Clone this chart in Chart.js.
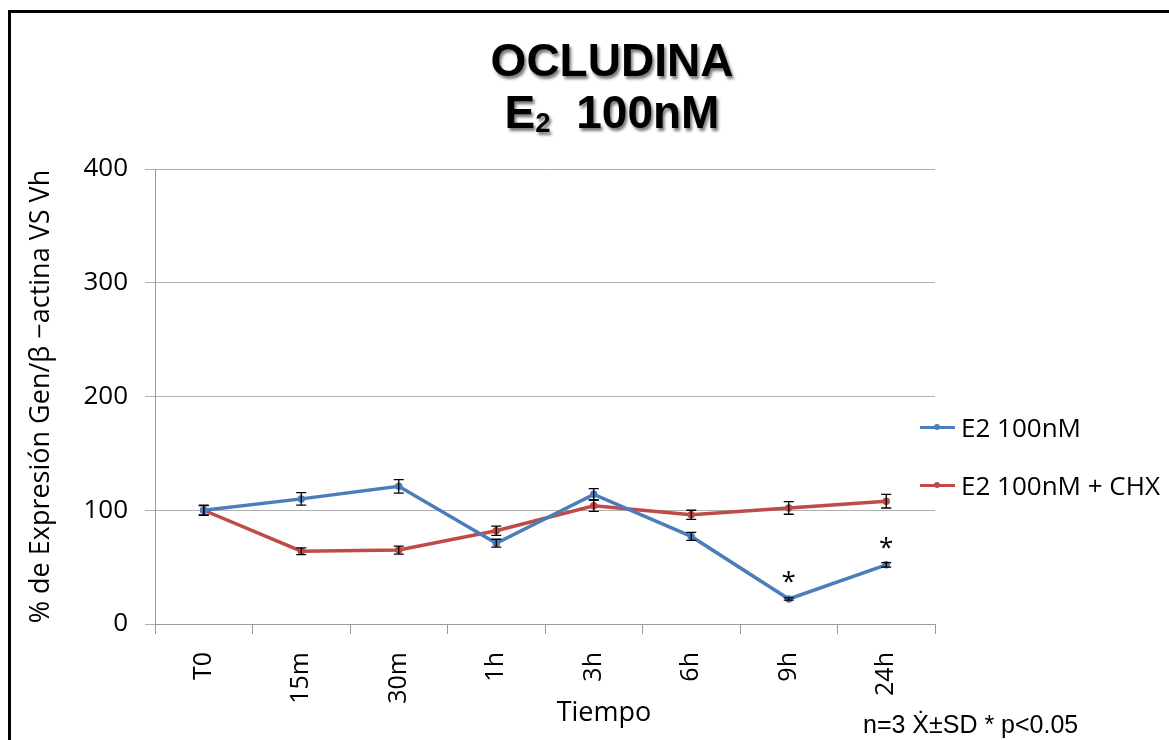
<!DOCTYPE html>
<html>
<head>
<meta charset="utf-8">
<script src="https://cdn.jsdelivr.net/npm/chart.js@4.4.1/dist/chart.umd.min.js"></script>
<style>
  html, body { margin: 0; padding: 0; background: #fff; overflow: hidden; }
  body { width: 1169px; height: 740px; position: relative; }
  #frame {
    position: absolute; left: 8px; top: 10px; width: 1200px; height: 800px;
    border: 3px solid #000; box-sizing: border-box;
  }
  #wrap { position: absolute; left: 0; top: 0; width: 1169px; height: 740px; }
  #title {
    position: absolute; left: 412px; top: 34px; width: 400px; text-align: center;
    font-family: 'Liberation Sans', Arial, sans-serif; font-weight: bold;
    font-size: 46px; line-height: 52px; color: #000;
    text-shadow: 2px 3px 3px #7a7a7a;
  }
  #title .sub { font-size: 0.6em; position: relative; top: 4px; }
  #xtitle {
    position: absolute; left: 504px; top: 697px; width: 200px; text-align: center;
    font-family: 'Open Sans', sans-serif; font-size: 27px; line-height: 27px; color: #000;
  }
  #note {
    position: absolute; left: 863px; top: 712px; white-space: nowrap;
    font-family: 'Liberation Sans', Arial, sans-serif; font-size: 25px; line-height: 25px; color: #000;
  }
  .leg {
    position: absolute; left: 920px; height: 36px; display: flex; align-items: center;
    font-family: 'Open Sans', sans-serif; font-size: 26px; color: #000; white-space: nowrap;
  }
  .leg .ln { width: 35px; height: 3px; position: relative; margin-right: 6px; }
  .leg .ln i { position: absolute; left: 14px; top: -1.5px; width: 6px; height: 6px; border-radius: 3px; }
</style>
</head>
<body>
<div id="frame"></div>
<div id="wrap"><canvas id="chart"></canvas></div>
<div id="title">OCLUDINA<br>E<span class="sub">2</span>&nbsp; 100nM</div>
<div id="xtitle">Tiempo</div>
<div id="note">n=3 Ẋ±SD * p&lt;0.05</div>
<div id="legend"></div>
<script>
// ── DATA ──
const labels = ['T0', '15m', '30m', '1h', '3h', '6h', '9h', '24h'];

const e2Values = [100, 110, 121, 71, 114, 77, 22, 52];
const e2Sd     = [4, 5.5, 6, 3.5, 5, 3.5, 1, 2];
const e2Sig    = [false, false, false, false, false, false, true, true];

const chxValues = [100, 64, 65, 82, 104, 96, 102, 108];
const chxSd     = [4.5, 3, 3.5, 4, 5, 4, 5.5, 6];
const chxSig    = [false, false, false, false, false, false, false, false];

const seriesNames  = ['E2 100nM', 'E2 100nM + CHX'];
const seriesColors = ['#4a7ebb', '#be4b48'];
const yTicks = [0, 100, 200, 300, 400];

const FONT = "'Open Sans', sans-serif";

// ── ERROR BARS + SIGNIFICANCE ──
const errorBars = {
  id: 'errorBars',
  afterDatasetsDraw(chart) {
    const ctx = chart.ctx;
    const y = chart.scales.y;
    ctx.save();
    chart.data.datasets.forEach((ds, i) => {
      const meta = chart.getDatasetMeta(i);
      meta.data.forEach((pt, j) => {
        const top = y.getPixelForValue(ds.data[j] + ds.sd[j]);
        const bot = y.getPixelForValue(ds.data[j] - ds.sd[j]);
        ctx.strokeStyle = '#000';
        ctx.lineWidth = 1.3;
        ctx.beginPath();
        ctx.moveTo(pt.x, top);     ctx.lineTo(pt.x, bot);
        ctx.moveTo(pt.x - 5, top); ctx.lineTo(pt.x + 5, top);
        ctx.moveTo(pt.x - 5, bot); ctx.lineTo(pt.x + 5, bot);
        ctx.stroke();
        if (ds.sig[j]) {
          ctx.fillStyle = '#000';
          ctx.font = '26px ' + FONT;
          ctx.textAlign = 'center';
          ctx.textBaseline = 'alphabetic';
          ctx.fillText('*', pt.x, pt.y - 9);
        }
      });
    });
    ctx.restore();
  }
};

// ── CHART ──
const ctx = document.getElementById('chart').getContext('2d');
const chart = new Chart(ctx, {
  type: 'line',
  data: {
    labels,
    datasets: [
      { label: seriesNames[0], data: e2Values, sd: e2Sd, sig: e2Sig,
        borderColor: seriesColors[0], backgroundColor: seriesColors[0],
        borderWidth: 3.5, pointRadius: 2, tension: 0 },
      { label: seriesNames[1], data: chxValues, sd: chxSd, sig: chxSig,
        borderColor: seriesColors[1], backgroundColor: seriesColors[1],
        borderWidth: 3.5, pointRadius: 2, tension: 0 },
    ],
  },
  options: {
    responsive: true,
    maintainAspectRatio: false,
    animation: false,
    layout: { padding: { left: 12, top: 169, right: 234, bottom: 0 } },
    plugins: {
      legend:  { display: false },
      tooltip: { enabled: false },
    },
    scales: {
      x: {
        offset: true,
        grid:   { offset: true, drawOnChartArea: false, tickLength: 10, color: '#9a9a9a' },
        border: { color: '#9a9a9a' },
        ticks:  { color: '#000', font: { family: FONT, size: 25 }, maxRotation: 90, minRotation: 90, autoSkip: false, padding: 18 },
        afterFit: s => { s.height = 116; },
      },
      y: {
        min: 0, max: 400,
        afterBuildTicks: s => { s.ticks = yTicks.map(v => ({ value: v })); },
        grid:   { color: '#b0b0b0', tickLength: 10 },
        border: { color: '#9a9a9a' },
        ticks:  { color: '#000', font: { family: FONT, size: 26 }, padding: 17 },
        title:  {
          display: true,
          text: '% de Expresión Gen/β −actina VS Vh',
          color: '#000',
          font: { family: FONT, size: 27 },
          padding: { top: 13, bottom: 0 },
        },
        afterFit: s => { s.width = 143; },
      },
    },
  },
  plugins: [errorBars],
});

// ── LEGEND ──
const legendTops = [409, 467];
const legend = document.getElementById('legend');
seriesNames.forEach((name, i) => {
  const item = document.createElement('div');
  item.className = 'leg';
  item.style.top = legendTops[i] + 'px';
  item.innerHTML = `<span class="ln" style="background:${seriesColors[i]}"><i style="background:${seriesColors[i]}"></i></span>${name}`;
  legend.appendChild(item);
});
</script>
</body>
</html>
